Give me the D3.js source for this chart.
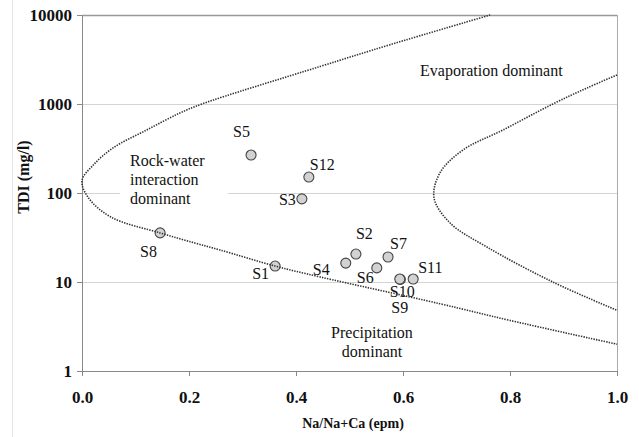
<!DOCTYPE html>
<html>
<head>
<meta charset="utf-8">
<script src="https://cdn.jsdelivr.net/npm/d3@7"></script>
<style>
    body { margin: 0; background: #fff; }
    svg { display: block; }
</style>
</head>
<body>
<div id="chart"></div>
<script>
const serif = "'Liberation Serif', 'DejaVu Serif', 'Times New Roman', Times, serif";

// Sample points
const samples = ["S1", "S2", "S3", "S4", "S5", "S6", "S7", "S8", "S9", "S10", "S11", "S12"];
const naRatio = [0.361, 0.512, 0.411, 0.493, 0.316, 0.551, 0.572, 0.146, 0.595, 0.594, 0.619, 0.424];
const tdi = [15.1, 20.6, 86, 16.3, 267, 14.4, 19.1, 35.6, 10.7, 10.8, 10.8, 151];

// Gibbs boundary curves
const outerCurveX = [0.763, 0.576, 0.445, 0.224, 0.183, 0.121, 0.058, 0.021, 0.0, 0.011, 0.054, 0.146, 0.211, 0.258, 0.361, 0.445, 0.669, 0.8, 1.0];
const outerCurveTDI = [10000, 4640, 2640, 1000, 792, 511, 321, 206, 138, 90, 53.7, 35.6, 27.4, 22.9, 15.1, 11.4, 5.7, 3.7, 2.0];
const innerCurveX = [1.0, 0.944, 0.88, 0.787, 0.712, 0.669, 0.658, 0.688, 0.757, 0.88, 1.0];
const innerCurveTDI = [2120, 1514, 1000, 511, 304, 168, 88, 46, 24.7, 10, 4.8];

// Axis ticks
const xTicks = [0, 0.2, 0.4, 0.6, 0.8, 1.0];
const yTicks = [1, 10, 100, 1000, 10000];

// Label placement relative to each point: [dx, dy, anchor]
const labelOffset = {
    S1: [-23, 13, "start"], S2: [0, -15, "start"], S3: [-6, 6, "end"], S4: [-33, 12, "start"],
    S5: [-18, -18, "start"], S6: [-20, 15, "start"], S7: [2, -8, "start"], S8: [-20, 24, "start"],
    S9: [-9, 34, "start"], S10: [-10, 18, "start"], S11: [5, -6, "start"], S12: [1, -7, "start"]
};

let margin = {top: 15, right: 22, bottom: 66, left: 82},
    fullW = 639, fullH = 437,
    width = fullW - margin.left - margin.right,
    height = fullH - margin.top - margin.bottom;

let svg = d3.select("#chart").append("svg")
    .attr("width", fullW)
    .attr("height", fullH)
    .attr("font-family", serif);

// faint page edge line
svg.append("line")
    .attr("x1", 12.5).attr("x2", 12.5).attr("y1", 0).attr("y2", fullH)
    .attr("stroke", "#e3e8ee").attr("stroke-width", 1);

let g = svg.append("g").attr("transform", "translate(" + margin.left + "," + margin.top + ")");

let xScale = d3.scaleLinear().domain([0, 1]).range([0, width]);
let yScale = d3.scaleLog().domain([1, 10000]).range([height, 0]);

//Gridlines
g.selectAll(".grid")
    .data([10, 100, 1000])
    .enter().append("line")
    .attr("x1", 0).attr("x2", width)
    .attr("y1", d => yScale(d) + 0.5).attr("y2", d => yScale(d) + 0.5)
    .attr("stroke", "#d4d4d4").attr("stroke-width", 1);

//Plot frame (top and right)
g.append("line").attr("x1", 0).attr("x2", width).attr("y1", 0.5).attr("y2", 0.5)
    .attr("stroke", "#999").attr("stroke-width", 1.5);
g.append("line").attr("x1", width + 0.5).attr("x2", width + 0.5).attr("y1", 0).attr("y2", height)
    .attr("stroke", "#aaa").attr("stroke-width", 1);

//Axes
let yAxis = g.append("g")
    .call(d3.axisLeft(yScale).tickValues(yTicks).tickFormat(d3.format("d")).tickSize(5).tickSizeOuter(0).tickPadding(5));
let xAxis = g.append("g")
    .attr("transform", "translate(0," + height + ")")
    .call(d3.axisBottom(xScale).tickValues(xTicks).tickFormat(d3.format(".1f")).tickSize(5).tickSizeOuter(0).tickPadding(15));

[yAxis, xAxis].forEach(ax => {
    ax.attr("font-family", serif).attr("font-size", 17).attr("font-weight", "bold");
    ax.select(".domain").attr("stroke", "#888");
    ax.selectAll(".tick line").attr("stroke", "#888");
    ax.selectAll(".tick text").attr("fill", "#111");
});

//Axis titles
svg.append("text")
    .attr("transform", "translate(29,177) rotate(-90)")
    .attr("text-anchor", "middle")
    .attr("font-weight", "bold")
    .attr("font-size", 16)
    .attr("fill", "#111")
    .text("TDI (mg/l)");

svg.append("text")
    .attr("x", 353)
    .attr("y", 428)
    .attr("text-anchor", "middle")
    .attr("font-weight", "bold")
    .attr("font-size", 14)
    .attr("fill", "#111")
    .text("Na/Na+Ca (epm)");

//Region labels
g.append("rect")
    .attr("x", 120 - margin.left).attr("y", 150 - margin.top)
    .attr("width", 108).attr("height", 62)
    .attr("fill", "#fff");

let rockText = g.append("text")
    .attr("x", 130 - margin.left)
    .attr("y", 166 - margin.top)
    .attr("font-size", 16)
    .attr("fill", "#111");
["Rock-water", "interaction", "dominant"].forEach((line, i) => {
    rockText.append("tspan").attr("x", 130 - margin.left).attr("dy", i == 0 ? 0 : 19).text(line);
});

g.append("text")
    .attr("x", 420 - margin.left)
    .attr("y", 76 - margin.top)
    .attr("font-size", 16)
    .attr("fill", "#111")
    .text("Evaporation dominant");

let precText = g.append("text")
    .attr("text-anchor", "middle")
    .attr("x", 372 - margin.left)
    .attr("y", 338 - margin.top)
    .attr("font-size", 16)
    .attr("fill", "#111");
["Precipitation", "dominant"].forEach((line, i) => {
    precText.append("tspan").attr("x", 372 - margin.left).attr("dy", i == 0 ? 0 : 19).text(line);
});

//Sample points
let points = samples.map((s, i) => ({name: s, x: naRatio[i], y: tdi[i]}));

g.selectAll("circle.pt")
    .data(points)
    .enter().append("circle")
    .attr("class", "pt")
    .attr("r", 5)
    .attr("cx", d => xScale(d.x))
    .attr("cy", d => yScale(d.y))
    .attr("fill", "#d2d2d2")
    .attr("stroke", "#444")
    .attr("stroke-width", 1.1);

g.selectAll("text.lbl")
    .data(points)
    .enter().append("text")
    .attr("class", "lbl")
    .attr("x", d => xScale(d.x) + labelOffset[d.name][0])
    .attr("y", d => yScale(d.y) + labelOffset[d.name][1])
    .attr("text-anchor", d => labelOffset[d.name][2])
    .attr("font-size", 16)
    .attr("fill", "#111")
    .text(d => d.name);

//Boundary curves
let curveLine = d3.line()
    .x(d => xScale(d[0]))
    .y(d => yScale(d[1]))
    .curve(d3.curveCatmullRom.alpha(0.5));

[[outerCurveX, outerCurveTDI], [innerCurveX, innerCurveTDI]].forEach(([xs, ys]) => {
    g.append("path")
        .datum(xs.map((v, i) => [v, ys[i]]))
        .attr("d", curveLine)
        .attr("fill", "none")
        .attr("stroke", "#333")
        .attr("stroke-width", 1.6)
        .attr("stroke-dasharray", "1.4,1.2");
});
</script>
</body>
</html>
